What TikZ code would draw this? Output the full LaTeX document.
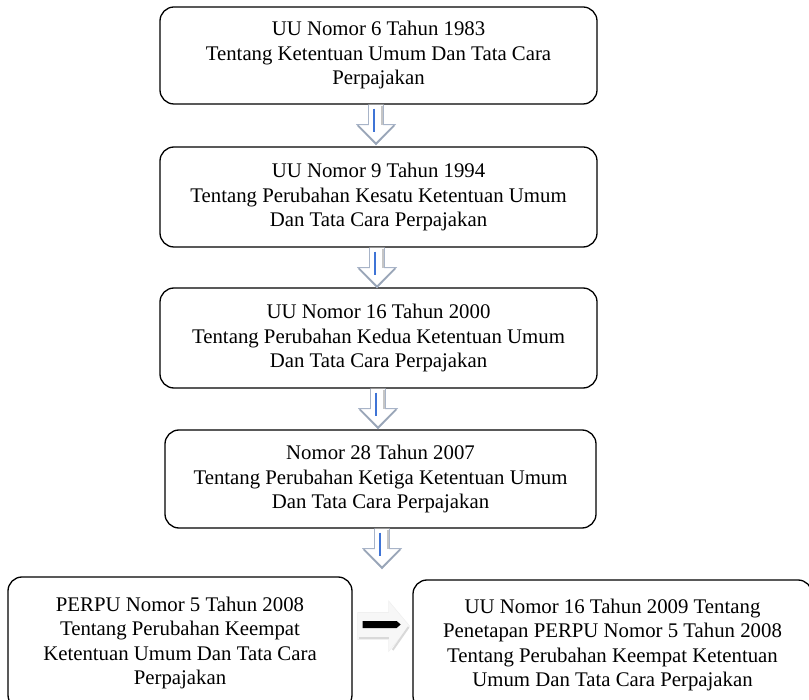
\documentclass[tikz,border=0pt]{standalone}
\usepackage{fontspec}
\setmainfont{Liberation Serif}
\usetikzlibrary{calc}
\definecolor{arrowedge}{HTML}{A8B4C8}
\definecolor{arrowshade}{HTML}{9AA6B8}
\definecolor{arrowblue}{HTML}{3F74D6}
\tikzset{
  box/.style={draw, line width=1.3pt, rounded corners=14pt, align=center,
    font=\fontsize{20.8}{24.5}\selectfont, inner sep=0pt},
  downarrow/.pic={
    \path[draw=arrowedge, line width=0.9pt, fill=white]
      (-7.5,0) -- (-7.5,-20) -- (-19,-20) -- (0,-40) -- (19,-20) -- (7.5,-20) -- (7.5,0);
    \draw[arrowshade, line width=1.8pt] (-18,-21) -- (0,-39) -- (18,-21);
    \draw[gray!45, line width=1.6pt] (6,-1) -- (6,-20);
    \draw[arrowblue, line width=2.2pt] (-2,-4) -- (-2,-27);
  },
  rightarrow/.pic={
    \path[fill=gray!6, draw=gray!12, line width=0.6pt]
      (0,13.5) -- (31,13.5) -- (31,25) -- (52,0) -- (31,-25.5) -- (31,-13.5) -- (0,-13.5) -- cycle;
    \draw[gray!30, line width=2pt] (1,-11.5) -- (31,-11.5);
    \draw[gray!30, line width=2pt] (51,-1) -- (35,-24);
    \fill[black] (5,5) -- (39,5) -- (43,1.5) -- (39,-2) -- (5,-2) -- cycle;
  }
}
\begin{document}
\begin{tikzpicture}[x=1pt,y=1pt]
\useasboundingbox (0,0) rectangle (809,-700);
\clip (0,0) rectangle (809,-700);
\node[box, minimum width=437pt, minimum height=97pt] (b1) at (378.5,-55.5)
  {UU Nomor 6 Tahun 1983\\Tentang Ketentuan Umum Dan Tata Cara\\Perpajakan};
\node[box, minimum width=437pt, minimum height=100pt] (b2) at (378.5,-197)
  {UU Nomor 9 Tahun 1994\\Tentang Perubahan Kesatu Ketentuan Umum\\Dan Tata Cara Perpajakan};
\node[box, minimum width=437pt, minimum height=100pt] (b3) at (378.5,-338)
  {UU Nomor 16 Tahun 2000\\Tentang Perubahan Kedua Ketentuan Umum\\Dan Tata Cara Perpajakan};
\node[box, minimum width=431pt, minimum height=98pt] (b4) at (380.5,-479)
  {Nomor 28 Tahun 2007\\Tentang Perubahan Ketiga Ketentuan Umum\\Dan Tata Cara Perpajakan};
\node[box, minimum width=344pt, minimum height=132pt] (b5) at (180,-643)
  {PERPU Nomor 5 Tahun 2008\\Tentang Perubahan Keempat\\Ketentuan Umum Dan Tata Cara\\Perpajakan};
\node[box, minimum width=399pt, minimum height=130pt] (b6) at (612.5,-645)
  {UU Nomor 16 Tahun 2009 Tentang\\Penetapan PERPU Nomor 5 Tahun 2008\\Tentang Perubahan Keempat Ketentuan\\Umum Dan Tata Cara Perpajakan};
\coordinate (a1) at ($(b1.south)+(-2.5,0)$);
\coordinate (a2) at ($(b2.south)+(-1.5,0)$);
\coordinate (a3) at ($(b3.south)+(-0.5,0)$);
\coordinate (a4) at ($(b4.south)+(1.5,0)$);
\coordinate (a5) at ($(b5.east)+(5,17)$);
\pic at (a1) {downarrow};
\pic at (a2) {downarrow};
\pic at (a3) {downarrow};
\pic at (a4) {downarrow};
\pic at (a5) {rightarrow};
\end{tikzpicture}
\end{document}
